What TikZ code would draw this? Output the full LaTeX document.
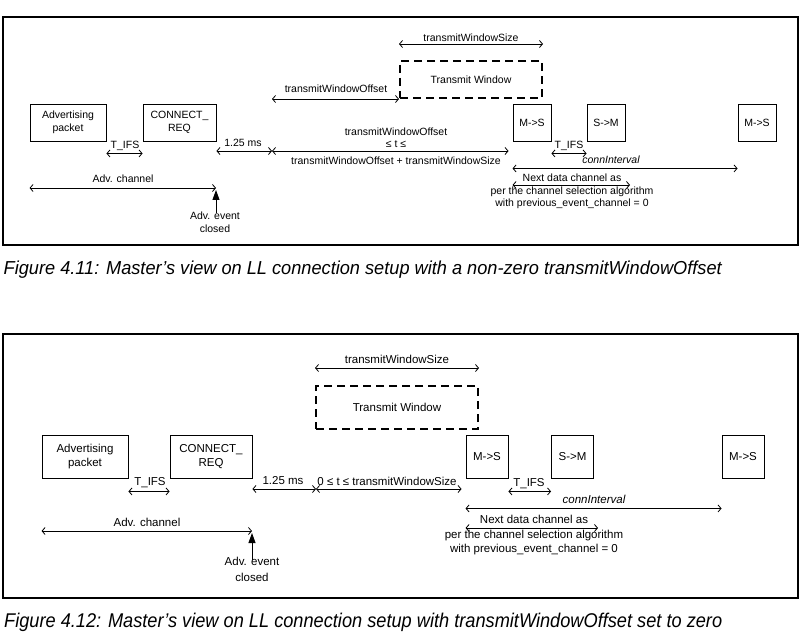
\documentclass[tikz,border=0pt]{standalone}
\usepackage{fontspec}
\setmainfont{Liberation Sans}
\usetikzlibrary{arrows.meta}
\tikzset{
  frame/.style={draw, line width=1.4pt},
  pkt/.style={draw, line width=0.9pt, inner sep=0pt, align=center},
  twin/.style={draw, line width=2pt, dash pattern=on 8pt off 5pt, inner sep=0pt, align=center},
  dim/.style={{Straight Barb[length=3pt,width=7pt]}-{Straight Barb[length=3pt,width=7pt]}, line width=0.8pt},
  evt/.style={-{Triangle[length=10pt,width=7pt]}, line width=0.9pt},
  lbl/.style={inner sep=0pt, anchor=base},
  fa/.style={font=\fontsize{10.5}{12.5}\selectfont},
  fb/.style={font=\fontsize{11.5}{14}\selectfont},
  capt/.style={inner sep=0pt, anchor=base west},
}
\begin{document}
\begin{tikzpicture}[x=1pt,y=-1pt]
\useasboundingbox (0,0) rectangle (808,639);

% ================= Figure 4.11 =================
\draw[frame] (3,17) rectangle (798,245);
\begin{scope}[every node/.append style={fa}]
\node[pkt, minimum width=76, minimum height=37] (adv1) at (68,122.5) {Advertising\\packet};
\node[pkt, minimum width=73, minimum height=37] (con1) at (179.5,122.5) {CONNECT\_\\REQ};
\node[pkt, minimum width=38, minimum height=37] (ms1) at (532,122.5) {M->S};
\node[pkt, minimum width=38, minimum height=37] (sm1) at (606,122.5) {S->M};
\node[pkt, minimum width=38, minimum height=37] (ms1b) at (757,122.5) {M->S};
\node[twin, minimum width=142, minimum height=37] (tw1) at (471,79.5) {Transmit Window};

\coordinate (x1) at (272,151);
\coordinate (ace1) at (216,188);
\coordinate (aeb1) at (216,213);
\coordinate (nd1) at (630,185);

\draw[dim] ([yshift=16pt]tw1.north west) -- ([yshift=16pt]tw1.north east);
\draw[dim] (x1 |- tw1.south west) -- (tw1.south west);
\draw[dim] (con1.east |- x1) -- (x1);
\draw[dim] (x1) -- ([xshift=-4pt]ms1.west |- x1);
\draw[dim] ([yshift=-12pt]adv1.south east) -- ([yshift=-12pt]con1.south west);
\draw[dim] ([yshift=-12pt]ms1.south east) -- ([yshift=-12pt]sm1.south west);
\draw[dim] ([yshift=-27pt]ms1.south west) -- ([yshift=-27pt]ms1b.south west);
\draw[dim] (ms1.west |- nd1) -- (nd1);
\draw[dim] (adv1.west |- ace1) -- (ace1);
\draw[evt] (aeb1) -- ([yshift=-2pt]ace1);

\node[lbl] (l1a) at (471,41.5) {transmitWindowSize};
\node[lbl] (l1b) at (336,93) {transmitWindowOffset};
\node[lbl] (l1c) at (396,136) {transmitWindowOffset};
\node[lbl] (l1d) at (396,148) {≤ t ≤};
\node[lbl] (l1e) at (396,165) {transmitWindowOffset + transmitWindowSize};
\node[lbl] (l1f) at (243,147) {1.25 ms};
\node[lbl] (l1g) at (125,149) {T\_IFS};
\node[lbl] (l1h) at (569,149) {T\_IFS};
\node[lbl] (l1i) at (611,164) {\itshape connInterval};
\node[lbl] (l1j) at (572,182) {Next data channel as};
\node[lbl] (l1k) at (572,195) {per the channel selection algorithm};
\node[lbl] (l1l) at (572,207) {with previous\_event\_channel = 0};
\node[lbl] (l1m) at (123,183) {Adv. channel};
\node[lbl] (l1n) at (215,219) {Adv. event};
\node[lbl] (l1o) at (215,232) {closed};
\end{scope}
\node[capt] (cap1) at (3.5,274.3) {\resizebox{718pt}{13.6pt}{\itshape Figure 4.11: Master’s view on LL connection setup with a non-zero transmitWindowOffset}};

% ================= Figure 4.12 =================
\draw[frame] (3,334) rectangle (798,598);
\begin{scope}[every node/.append style={fb}]
\node[pkt, minimum width=86, minimum height=43] (adv2) at (85,456.5) {Advertising\\packet};
\node[pkt, minimum width=82, minimum height=43] (con2) at (211,456.5) {CONNECT\_\\REQ};
\node[pkt, minimum width=42, minimum height=43] (ms2) at (487,456.5) {M->S};
\node[pkt, minimum width=42, minimum height=43] (sm2) at (572.5,456.5) {S->M};
\node[pkt, minimum width=42, minimum height=43] (ms2b) at (743,456.5) {M->S};
\node[twin, minimum width=162, minimum height=43] (tw2) at (397,407.5) {Transmit Window};

\coordinate (x2) at (316,489);
\coordinate (ace2) at (252,531);
\coordinate (aeb2) at (252,560);
\coordinate (nd2) at (598,528);

\draw[dim] ([yshift=17pt]tw2.north west) -- ([yshift=17pt]tw2.north east);
\draw[dim] (con2.east |- x2) -- (x2);
\draw[dim] (x2) -- ([xshift=-4pt]ms2.west |- x2);
\draw[dim] ([yshift=-13pt]adv2.south east) -- ([yshift=-13pt]con2.south west);
\draw[dim] ([yshift=-13pt]ms2.south east) -- ([yshift=-13pt]sm2.south west);
\draw[dim] ([yshift=-30pt]ms2.south west) -- ([yshift=-30pt]ms2b.south west);
\draw[dim] (ms2.west |- nd2) -- (nd2);
\draw[dim] (adv2.west |- ace2) -- (ace2);
\draw[evt] (aeb2) -- ([yshift=-2pt]ace2);

\node[lbl] (l2a) at (397,363) {transmitWindowSize};
\node[lbl] (l2b) at (283,484) {1.25 ms};
\node[lbl] (l2c) at (387,485) {0 ≤ t ≤ transmitWindowSize};
\node[lbl] (l2d) at (150,485) {T\_IFS};
\node[lbl] (l2e) at (529,486) {T\_IFS};
\node[lbl] (l2f) at (594,503) {\itshape connInterval};
\node[lbl] (l2g) at (534,523) {Next data channel as};
\node[lbl] (l2h) at (534,538) {per the channel selection algorithm};
\node[lbl] (l2i) at (534,552) {with previous\_event\_channel = 0};
\node[lbl] (l2j) at (147,526) {Adv. channel};
\node[lbl] (l2k) at (252,565) {Adv. event};
\node[lbl] (l2l) at (252,581) {closed};
\end{scope}
\node[capt] (cap2) at (4,627.7) {\resizebox{718pt}{14.4pt}{\itshape Figure 4.12: Master’s view on LL connection setup with transmitWindowOffset set to zero}};
\end{tikzpicture}
\end{document}
